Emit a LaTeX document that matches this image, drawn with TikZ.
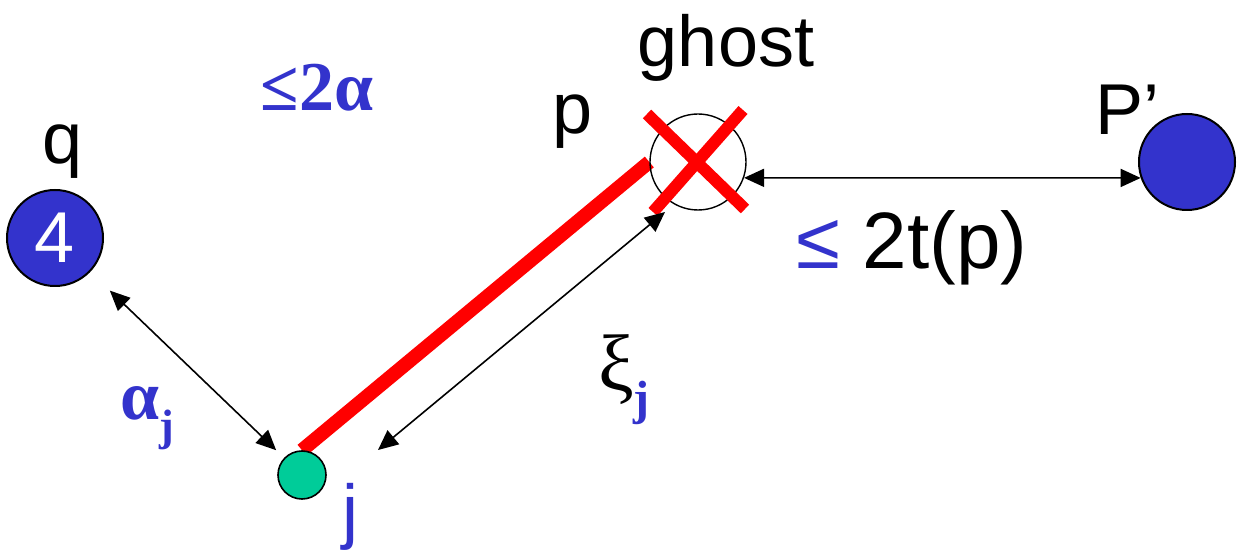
\documentclass[tikz,border=0pt]{standalone}
\usepackage{fontspec}
\setmainfont{Liberation Sans}
\newfontfamily\serifbf{Liberation Serif}
\definecolor{ptblue}{RGB}{51,51,204}
\definecolor{ptgreen}{RGB}{0,204,153}
\usetikzlibrary{calc,arrows.meta,backgrounds}

\tikzset{
  bigpt/.style={circle,draw,line width=1pt,fill=ptblue,minimum size=48pt,inner sep=0pt},
  dbl/.style={{Triangle[length=10pt,width=9pt]}-{Triangle[length=10pt,width=9pt]},line width=0.8pt},
  lbl/.style={font=\fontsize{36}{40}\selectfont},
  greek/.style={font=\fontsize{35}{40}\selectfont\serifbf\bfseries,text=ptblue},
  redx/.style={red,line width=6pt}
}

\begin{document}
\begin{tikzpicture}[x=0.5pt,y=-0.5pt]
  \useasboundingbox (0,0) rectangle (1243,555);
  % points
  \node[bigpt,text=white,lbl] (q) at (55,238) {4};
  \node[bigpt] (pp) at (1187,162) {};
  \node[circle,draw,line width=0.7pt,minimum size=48pt,inner sep=0pt] (ghost) at (698,162) {};
  \node[circle,draw,line width=0.8pt,fill=ptgreen,minimum size=24pt,inner sep=0pt] (j) at (302,475) {};
  \begin{scope}[on background layer]
    \draw[red,line width=7pt] (j.north) -- (ghost.west);
  \end{scope}
  \draw[redx] (ghost) ++(-51,-48) -- ++(98,95);
  \draw[redx] (ghost) ++(45,-52) -- ++(-90,102);
  % distances
  \coordinate (xia) at (378,450);
  \coordinate (xib) at (665,212);
  \draw[dbl] (xia) -- (xib);
  \draw[dbl,shorten <=13.5pt,shorten >=5.5pt] (q) -- (j);
  \draw[dbl] (ghost.-19) -- (pp.199);
  % labels
  \node[lbl] (ql) at (63,152) {q};
  \node[lbl] (pl) at (573,122) {p};
  \node[lbl] (gl) at (726,48) {ghost};
  \node[lbl] (ppl) at (1127,110) {P'};
  \node[lbl,text=ptblue] (jl) at (350,517) {j};
  \node[lbl,font=\fontsize{40}{44}\selectfont] (tl) at (912,248) {\textcolor{ptblue}{≤} 2t(p)};
  \node[greek] (al) at (317,88) {≤2α};
  \node[greek] (aj) at (147,418) {α\raisebox{-.3em}{\fontsize{22}{24}\selectfont j}};
  \node[font=\fontsize{40}{44}\selectfont\serifbf] (xi) at (624,380)
    {ξ\raisebox{-.3em}{\fontsize{24}{26}\selectfont\bfseries\color{ptblue}j}};
\end{tikzpicture}
\end{document}
